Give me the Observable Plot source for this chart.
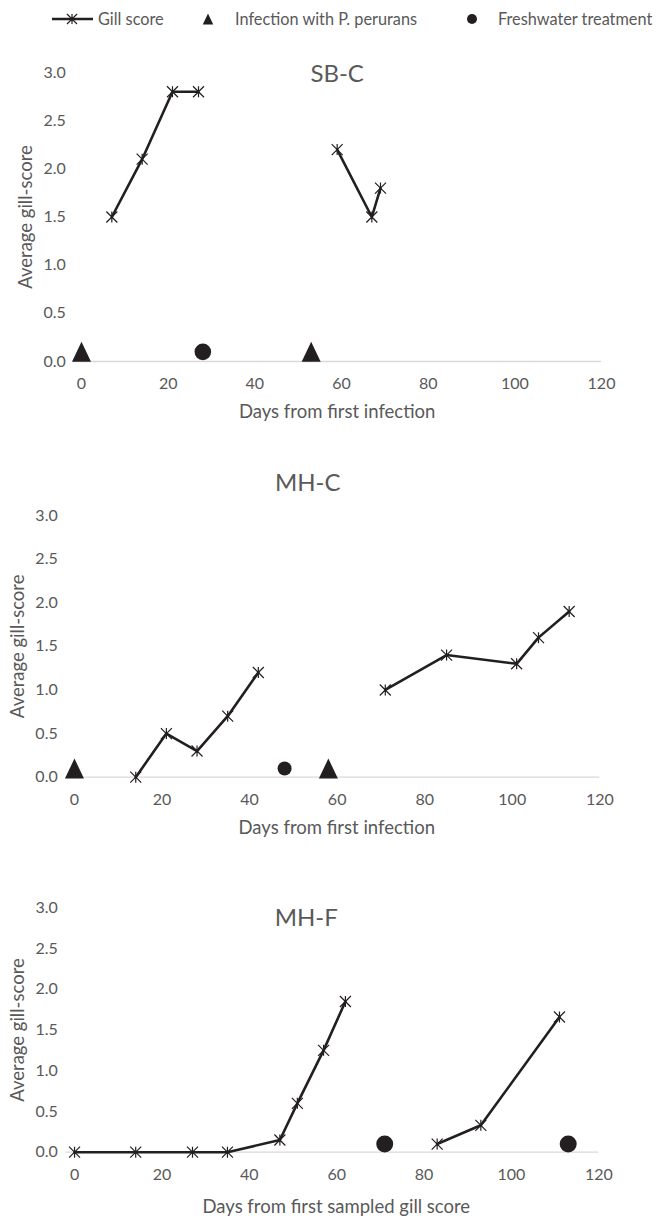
<!DOCTYPE html>
<html>
<head>
<meta charset="utf-8">
<script src="https://cdn.jsdelivr.net/npm/d3@7"></script>
<script src="https://cdn.jsdelivr.net/npm/@observablehq/plot@0.6"></script>
<style>
  html, body { margin: 0; padding: 0; background: #fff; }
  #root { position: relative; width: 659px; height: 1216px; overflow: hidden; font-family: Lato, "Open Sans", sans-serif; color: #595959; }
  .panel { position: absolute; left: 0; }
  .legsvg { position: absolute; top: 0; left: 0; }
</style>
</head>
<body>
<div id="root"></div>
<script>
// ---------- data ----------
const xTicks = [0, 20, 40, 60, 80, 100, 120];
const yTicks = [0, 0.5, 1.0, 1.5, 2.0, 2.5, 3.0];

// SB-C
const sbcGillDays  = [7, 14, 21, 27, 59, 67, 69];
const sbcGillScore = [1.5, 2.1, 2.8, 2.8, 2.2, 1.5, 1.8];
const sbcGillSeg   = [1, 1, 1, 1, 2, 2, 2];
const sbcInfectionDays  = [0, 53];
const sbcInfectionLevel = [0.1, 0.1];
const sbcFreshwaterDays  = [28];
const sbcFreshwaterLevel = [0.1];

// MH-C
const mhcGillDays  = [14, 21, 28, 35, 42, 71, 85, 101, 106, 113];
const mhcGillScore = [0, 0.5, 0.3, 0.7, 1.2, 1.0, 1.4, 1.3, 1.6, 1.9];
const mhcGillSeg   = [1, 1, 1, 1, 1, 2, 2, 2, 2, 2];
const mhcInfectionDays  = [0, 58];
const mhcInfectionLevel = [0.1, 0.1];
const mhcFreshwaterDays  = [48];
const mhcFreshwaterLevel = [0.1];

// MH-F
const mhfGillDays  = [0, 14, 27, 35, 47, 51, 57, 62, 83, 93, 111];
const mhfGillScore = [0, 0, 0, 0, 0.15, 0.6, 1.25, 1.85, 0.1, 0.33, 1.66];
const mhfGillSeg   = [1, 1, 1, 1, 1, 1, 1, 1, 2, 2, 2];
const mhfInfectionDays  = [];
const mhfInfectionLevel = [];
const mhfFreshwaterDays  = [71, 113];
const mhfFreshwaterLevel = [0.1, 0.1];

const legendLabels = ["Gill score", "Infection with P. perurans", "Freshwater treatment"];
const yLabel = "Average gill-score";

// ---------- styling ----------
const INK = "#231f20";
const GREY = "#595959";
const AXIS = "#d9d9d9";
const FONT = "Lato, 'Open Sans', sans-serif";

// Excel-like star marker: X plus vertical bar
const starSymbol = {
  draw(ctx, size) {
    const r = Math.sqrt(size / Math.PI);
    ctx.moveTo(-r, -r); ctx.lineTo(r, r);
    ctx.moveTo(-r, r); ctx.lineTo(r, -r);
    ctx.moveTo(0, -r); ctx.lineTo(0, r);
  }
};
// triangle centred on its bounding box
const triSymbol = {
  draw(ctx, size) {
    const r = Math.sqrt(size / Math.PI);
    ctx.moveTo(0, -r);
    ctx.lineTo(0.95 * r, r);
    ctx.lineTo(-0.95 * r, r);
    ctx.closePath();
  }
};

function rows(xs, ys, zs) {
  return xs.map((x, i) => ({x, y: ys[i], z: zs ? zs[i] : 0}));
}

function panel(cfg) {
  const gill = rows(cfg.gillDays, cfg.gillScore, cfg.gillSeg);
  const inf = rows(cfg.infDays, cfg.infLevel);
  const fw = rows(cfg.fwDays, cfg.fwLevel);
  const chart = Plot.plot({
    width: 659,
    height: cfg.height,
    marginTop: cfg.marginTop,
    marginBottom: cfg.marginBottom,
    marginLeft: cfg.marginLeft,
    marginRight: cfg.marginRight,
    style: {fontFamily: FONT, fontSize: "16px", color: GREY, background: "transparent", overflow: "visible"},
    x: {domain: [-2, 120], axis: null, label: null},
    y: {domain: [0, 3], axis: null, label: null},
    marks: [
      Plot.ruleY([0], {stroke: AXIS, strokeWidth: 1.3}),
      Plot.axisX({ticks: xTicks, tickSize: 0, tickPadding: 16, fill: GREY, fontSize: 16, label: null}),
      Plot.axisY({ticks: yTicks, tickSize: 0, tickPadding: cfg.yPad, tickFormat: d3.format(".1f"), fill: GREY, fontSize: 16, label: null}),
      Plot.text([yLabel], {frameAnchor: "left", textAnchor: "middle", rotate: -90, dx: cfg.yLabelDx, lineAnchor: "middle", fill: GREY, fontSize: 18.5, text: d => d}),
      Plot.text([cfg.xLabel], {frameAnchor: "bottom", textAnchor: "middle", dy: cfg.xLabelDy, dx: cfg.xLabelDx, lineAnchor: "middle", fill: GREY, fontSize: 18.5, text: d => d}),
      Plot.text([cfg.title], {frameAnchor: "top", textAnchor: "middle", dy: cfg.titleDy, dx: cfg.titleDx, lineAnchor: "middle", fill: GREY, fontSize: 24, text: d => d}),
      Plot.line(gill, {x: "x", y: "y", z: "z", stroke: INK, strokeWidth: 2.6}),
      Plot.dot(gill, {x: "x", y: "y", symbol: starSymbol, r: 5.5, stroke: INK, strokeWidth: 1.2, fill: "none"}),
      Plot.dot(inf, {x: "x", y: "y", symbol: triSymbol, r: 10, fill: INK, stroke: "none"}),
      Plot.dot(fw, {x: "x", y: "y", r: cfg.circleR, fill: INK, stroke: "none"})
    ]
  });
  chart.classList.add("panel");
  chart.style.top = cfg.top + "px";
  return chart;
}

const root = document.getElementById("root");

// legend
const leg = d3.select(root).append("svg").attr("class", "legsvg").attr("width", 659).attr("height", 40);
leg.append("line").attr("x1", 52).attr("x2", 93).attr("y1", 19).attr("y2", 19).attr("stroke", INK).attr("stroke-width", 2.6);
leg.append("path").attr("transform", "translate(72,19)").attr("d", d3.symbol(starSymbol, 5 * 5 * Math.PI)()).attr("stroke", INK).attr("stroke-width", 1.2).attr("fill", "none");
leg.append("path").attr("transform", "translate(208,19)").attr("d", d3.symbol(triSymbol, 5.5 * 5.5 * Math.PI)()).attr("fill", INK);
leg.append("circle").attr("cx", 472).attr("cy", 19).attr("r", 5).attr("fill", INK);
[[98, 0], [235, 1], [498, 2]].forEach(([x, i]) => {
  leg.append("text").attr("x", x).attr("y", 19).attr("dy", "0.35em")
    .attr("font-family", FONT).attr("font-size", 16.3).attr("fill", GREY).text(legendLabels[i]);
});

root.appendChild(panel({
  title: "SB-C", xLabel: "Days from first infection",
  gillDays: sbcGillDays, gillScore: sbcGillScore, gillSeg: sbcGillSeg,
  infDays: sbcInfectionDays, infLevel: sbcInfectionLevel,
  fwDays: sbcFreshwaterDays, fwLevel: sbcFreshwaterLevel,
  top: 40, height: 390, marginTop: 32, marginBottom: 69, marginLeft: 72.33, marginRight: 58,
  yPad: 7, yLabelDx: -47, xLabelDy: 51, xLabelDx: 0, titleDy: 2, titleDx: 0, circleR: 8.3
}));

root.appendChild(panel({
  title: "MH-C", xLabel: "Days from first infection",
  gillDays: mhcGillDays, gillScore: mhcGillScore, gillSeg: mhcGillSeg,
  infDays: mhcInfectionDays, infLevel: mhcInfectionLevel,
  fwDays: mhcFreshwaterDays, fwLevel: mhcFreshwaterLevel,
  top: 450, height: 400, marginTop: 65, marginBottom: 73.3, marginLeft: 65.2, marginRight: 59.7,
  yPad: 8, yLabelDx: -48, xLabelDy: 51, xLabelDx: 4, titleDy: -32, titleDx: -25, circleR: 7
}));

root.appendChild(panel({
  title: "MH-F", xLabel: "Days from first sampled gill score",
  gillDays: mhfGillDays, gillScore: mhfGillScore, gillSeg: mhfGillSeg,
  infDays: mhfInfectionDays, infLevel: mhfInfectionLevel,
  fwDays: mhfFreshwaterDays, fwLevel: mhfFreshwaterLevel,
  top: 880, height: 336, marginTop: 27.3, marginBottom: 64.3, marginLeft: 65.3, marginRight: 60.7,
  yPad: 8, yLabelDx: -48, xLabelDy: 55, xLabelDx: 4, titleDy: 11, titleDx: -26, circleR: 8.5
}));
</script>
</body>
</html>
